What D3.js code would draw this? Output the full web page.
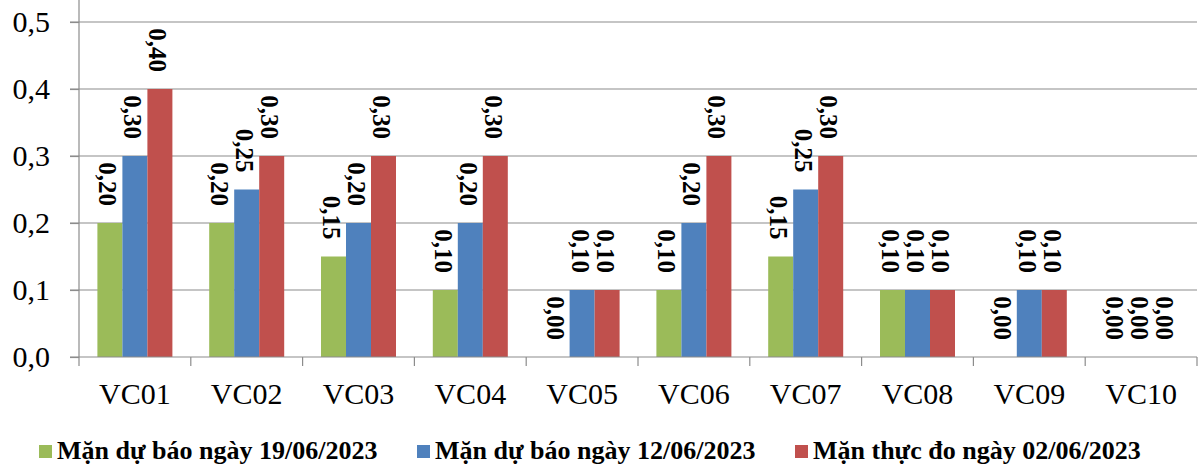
<!DOCTYPE html>
<html>
<head>
<meta charset="utf-8">
<script src="https://cdn.jsdelivr.net/npm/d3@7"></script>
<style>
  body { margin: 0; background: #fff; }
  svg { display: block; }
  svg text { font-family: "Liberation Serif", "Times New Roman", serif; }
</style>
</head>
<body>
<div id="chart"></div>
<script>
const categories = ["VC01", "VC02", "VC03", "VC04", "VC05", "VC06", "VC07", "VC08", "VC09", "VC10"];
const seriesNames = ["Mặn dự báo ngày 19/06/2023", "Mặn dự báo ngày 12/06/2023", "Mặn thực đo ngày 02/06/2023"];
const seriesColors = ["#9BBB59", "#4F81BD", "#C0504D"];
const forecast19 = [0.20, 0.20, 0.15, 0.10, 0.00, 0.10, 0.15, 0.10, 0.00, 0.00];
const forecast12 = [0.30, 0.25, 0.20, 0.20, 0.10, 0.20, 0.25, 0.10, 0.10, 0.00];
const measured02 = [0.40, 0.30, 0.30, 0.30, 0.10, 0.30, 0.30, 0.10, 0.10, 0.00];
const yTicks = [0, 0.1, 0.2, 0.3, 0.4, 0.5];

const seriesValues = [forecast19, forecast12, measured02];

const width = 1200;
const height = 467;
const left = 79, right = 1197, bottom = 357;

const svg = d3.select("#chart")
    .append("svg")
    .attr("width", width)
    .attr("height", height);

// chart top is cut off in the original, 0.6 sits above the frame
const y = d3.scaleLinear().domain([0, 0.6]).range([bottom, bottom - 6 * 67]);
const x = d3.scaleBand().domain(categories).range([left, right]).padding(0);
const xs = d3.scaleBand().domain(d3.range(3)).range([0, 75]);

const comma = f => s => d3.format(f)(s).replace(".", ",");

// gridlines
svg.append("g")
    .selectAll("line")
    .data(yTicks.slice(1))
    .join("line")
    .attr("x1", left - 9)
    .attr("x2", right)
    .attr("y1", d => y(d))
    .attr("y2", d => y(d))
    .attr("stroke", "#8c8c8c")
    .attr("stroke-width", 1.2);

// bars
const groups = svg.append("g")
    .selectAll("g")
    .data(categories)
    .join("g")
    .attr("transform", d => `translate(${x(d) + x.bandwidth() / 2 - 37.5},0)`);

groups.selectAll("rect")
    .data((c, i) => seriesValues.map((s, k) => ({ k, v: s[i] })))
    .join("rect")
    .attr("x", d => xs(d.k))
    .attr("width", xs.bandwidth())
    .attr("y", d => y(d.v))
    .attr("height", d => y(0) - y(d.v))
    .attr("fill", d => seriesColors[d.k]);

groups.selectAll("text")
    .data((c, i) => seriesValues.map((s, k) => ({ k, v: s[i] })))
    .join("text")
    .attr("transform", d => `translate(${xs(d.k) + xs.bandwidth() / 2 - 2},${y(d.v) - 17}) rotate(90)`)
    .attr("text-anchor", "end")
    .attr("dominant-baseline", "central")
    .attr("font-size", 25)
    .attr("font-weight", "bold")
    .attr("fill", "#000")
    .text(d => comma(".2f")(d.v));

// y axis
const yAxis = svg.append("g")
    .attr("transform", `translate(${left},0)`)
    .call(d3.axisLeft(y).tickValues(yTicks).tickFormat(comma(".1f")).tickSize(9).tickPadding(20));
yAxis.attr("font-family", null);
yAxis.select(".domain").remove();
yAxis.selectAll(".tick line").attr("stroke", "#8c8c8c").attr("stroke-width", 1.2);
yAxis.selectAll("text")
    .attr("font-size", 30)
    .attr("fill", "#000");
svg.append("line")
    .attr("x1", left).attr("x2", left)
    .attr("y1", 0).attr("y2", bottom)
    .attr("stroke", "#8c8c8c").attr("stroke-width", 1.2);

// x axis
const xAxis = svg.append("g")
    .attr("transform", `translate(0,${bottom})`)
    .call(d3.axisBottom(x).tickSize(0).tickPadding(26));
xAxis.attr("font-family", null);
xAxis.select(".domain").attr("stroke", "#8c8c8c").attr("stroke-width", 1.2)
    .attr("d", `M${left - 9},0H${right}`);
xAxis.selectAll("text")
    .attr("font-size", 30)
    .attr("fill", "#000");
svg.append("g")
    .selectAll("line")
    .data(categories.concat(["end"]))
    .join("line")
    .attr("x1", d => d === "end" ? right : x(d))
    .attr("x2", d => d === "end" ? right : x(d))
    .attr("y1", bottom)
    .attr("y2", bottom + 9)
    .attr("stroke", "#8c8c8c")
    .attr("stroke-width", 1.2);

// legend
const legendX = [39, 417, 795];
const legend = svg.append("g")
    .selectAll("g")
    .data(seriesNames)
    .join("g")
    .attr("transform", (d, i) => `translate(${legendX[i]},0)`);
legend.append("rect")
    .attr("y", 445)
    .attr("width", 13)
    .attr("height", 13)
    .attr("fill", (d, i) => seriesColors[i]);
legend.append("text")
    .attr("x", 18)
    .attr("y", 459)
    .attr("font-size", 26)
    .attr("font-weight", "bold")
    .attr("fill", "#000")
    .text(d => d);
</script>
</body>
</html>
